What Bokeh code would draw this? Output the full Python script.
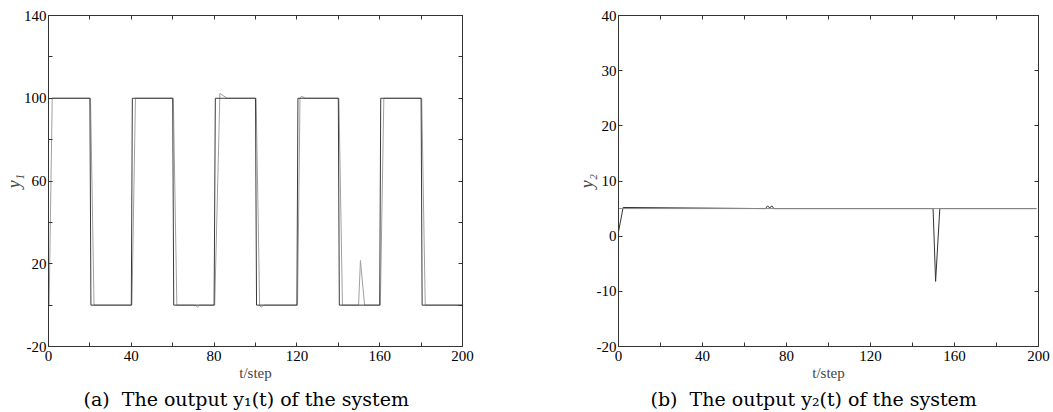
from bokeh.plotting import figure
from bokeh.layouts import row
from bokeh.models import FixedTicker, LinearAxis, Range1d
from bokeh.embed import file_html
from bokeh.resources import INLINE

# ---------------- data ----------------
# panel (a): y1
y1_ref_t = [1.8, 20.0, 20.5, 40.0, 40.5, 60.0, 60.5, 80.0, 80.6, 100.0, 100.5,
            120.0, 120.5, 140.0, 140.5, 160.0, 160.5, 180.0, 180.5, 200.0]
y1_ref_v = [100, 100, 0, 0, 100, 100, 0, 0, 100, 100, 0,
            0, 100, 100, 0, 0, 100, 100, 0, 0]
y1_out_t = [0.3, 1.8, 20.3, 22.0, 40.3, 42.0, 60.3, 62.0, 71.0, 72.0, 73.0,
            80.3, 82.8, 86.3, 100.3, 102.0, 102.8, 104.0, 120.3, 121.5, 122.3,
            124.0, 140.3, 142.0, 149.8, 150.7, 152.7, 160.3, 162.0, 180.3,
            182.0, 200.0]
y1_out_v = [0, 100, 100, 0, 0, 100, 100, 0, 0, -1, 0,
            0, 102.3, 100, 100, 0, -1, 0, 0, 100, 101,
            100, 100, 0, 0, 21.6, 0, 0, 100, 100,
            0, 0]
# panel (b): y2
y2_ref_t = [0.0, 199.0]
y2_ref_v = [5.0, 5.0]
y2_out_t = [0.0, 2.2, 70.0, 71.0, 72.0, 73.0, 74.0, 149.8, 151.0, 153.0, 199.0]
y2_out_v = [0.8, 5.2, 5.0, 5.5, 5.1, 5.5, 5.0, 5.0, -8.2, 5.0, 5.0]

x_ticks = [0, 20, 40, 60, 80, 100, 120, 140, 160, 180, 200]
x_tick_labels = ["0", "", "40", "", "80", "", "120", "", "160", "", "200"]
y1_ticks = [-20, 0, 20, 40, 60, 80, 100, 120, 140]
y1_tick_labels = ["-20", "", "20", "", "60", "", "100", "", "140"]
y2_ticks = [-20, -10, 0, 10, 20, 30, 40]
y2_tick_labels = ["-20", "-10", "0", "10", "20", "30", "40"]

captions = ["(a)\u00a0\u00a0The output y\u2081(t) of the system",
            "(b)\u00a0\u00a0The output y\u2082(t) of the system"]
x_label = "t/step"
y_labels = ["y\u2081", "y\u2082"]

FONT = "Liberation Serif"
AX = "#333333"


def style_axis(ax, ticks, labels, show, standoff=4):
    ax.ticker = FixedTicker(ticks=ticks)
    ax.major_tick_in = 4
    ax.major_tick_out = 0
    ax.minor_tick_line_color = None
    ax.axis_line_color = AX
    ax.major_tick_line_color = AX
    if show:
        ax.major_label_overrides = {t: l for t, l in zip(ticks, labels)}
        ax.major_label_text_font = FONT
        ax.major_label_text_font_size = "15px"
        ax.major_label_text_color = "black"
        ax.major_label_standoff = standoff
    else:
        ax.major_label_overrides = {t: "" for t in ticks}
        ax.major_label_text_font_size = "0px"
        ax.major_label_standoff = 0


def make_panel(width, bl, br, yr, yt, ytl, ref_t, ref_v, out_t, out_v,
               caption, ylab, cap_offset, ref_col, out_col):
    p = figure(width=width, height=412, output_backend="svg",
               toolbar_location=None, x_range=Range1d(0, 200),
               y_range=Range1d(*yr), min_border_left=bl,
               min_border_right=br, min_border_top=15, min_border_bottom=66,
               title_location="below")
    p.background_fill_color = "white"
    p.border_fill_color = "white"
    p.outline_line_color = AX
    p.grid.visible = False
    style_axis(p.xaxis[0], x_ticks, x_tick_labels, True, 4)
    style_axis(p.yaxis[0], yt, ytl, True, 2)
    xa = p.xaxis[0]
    xa.axis_label = x_label
    xa.axis_label_text_font = FONT
    xa.axis_label_text_font_style = "normal"
    xa.axis_label_text_font_size = "15px"
    xa.axis_label_standoff = 1
    ya = p.yaxis[0]
    ya.axis_label = ylab
    ya.axis_label_text_font = FONT
    ya.axis_label_text_font_style = "italic"
    ya.axis_label_text_font_size = "18px"
    ya.axis_label_standoff = -3
    top = LinearAxis()
    style_axis(top, x_ticks, x_tick_labels, False)
    p.add_layout(top, "above")
    right = LinearAxis()
    style_axis(right, yt, ytl, False)
    p.add_layout(right, "right")

    p.line(out_t, out_v, line_color=out_col, line_width=1.0)
    p.line(ref_t, ref_v, line_color=ref_col, line_width=1.0)

    p.title.text = caption
    p.title.align = "left"
    p.title.offset = cap_offset
    p.title.text_font = "DejaVu Serif"
    p.title.text_font_style = "normal"
    p.title.text_font_size = "19px"
    p.title.text_color = "black"
    p.title.standoff = 5
    return p


pa = make_panel(530, 48, 68, (-20, 140), y1_ticks, y1_tick_labels,
                y1_ref_t, y1_ref_v, y1_out_t, y1_out_v,
                captions[0], y_labels[0], 35, "#3a3a3a", "#a0a0a0")
pb = make_panel(523, 88, 15, (-20, 40), y2_ticks, y2_tick_labels,
                y2_ref_t, y2_ref_v, y2_out_t, y2_out_v,
                captions[1], y_labels[1], 32, "#8a8a8a", "#333333")

layout = row(pa, pb)
open("out.html", "w").write(file_html(layout, INLINE))
